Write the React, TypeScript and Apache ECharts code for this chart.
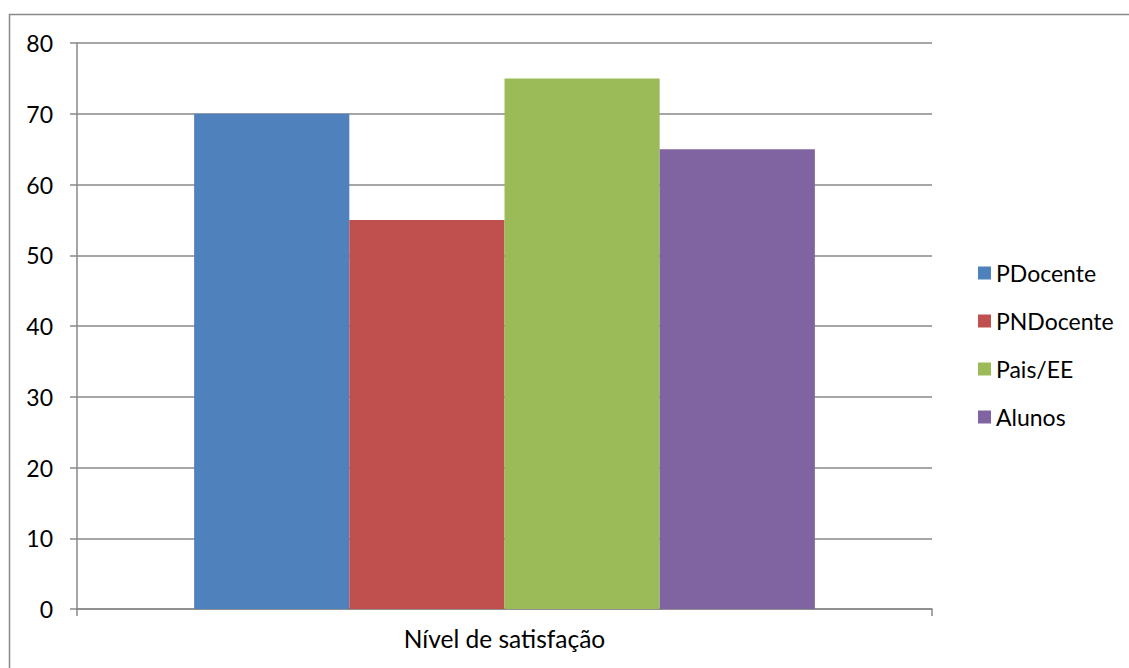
import React, { useEffect, useRef } from "react";
import * as echarts from "echarts";

const categories = ["Nível de satisfação"];
const seriesNames = ["PDocente", "PNDocente", "Pais/EE", "Alunos"];
const seriesValues = [[70], [55], [75], [65]];
const seriesColors = ["#4F81BD", "#C0504D", "#9BBB59", "#8064A2"];

const FONT = "Lato, 'Open Sans', sans-serif";
const FONT_SIZE = 23;

export default function App() {
  const ref = useRef<HTMLDivElement>(null);

  useEffect(() => {
    if (!ref.current) return;
    const chart = echarts.init(ref.current, undefined, { renderer: "svg" });
    chart.setOption({
      animation: false,
      backgroundColor: "#ffffff",
      graphic: [
        {
          type: "rect",
          shape: { x: 9.5, y: 14.5, width: 1300, height: 800 },
          style: { fill: "none", stroke: "#898989", lineWidth: 1.5 },
          silent: true,
        },
      ],
      grid: { left: 77, right: 197, top: 43, bottom: 59 },
      legend: {
        orient: "vertical",
        left: 973,
        top: 256,
        itemWidth: 13,
        itemHeight: 13,
        itemGap: 24,
        icon: "rect",
        textStyle: {
          fontFamily: FONT,
          fontSize: FONT_SIZE,
          lineHeight: 24,
          color: "#000",
          padding: [0, 0, 0, 0],
        },
        data: seriesNames,
      },
      xAxis: {
        type: "category",
        data: categories,
        axisLine: { lineStyle: { color: "#898989", width: 1.5 } },
        axisTick: { show: true, length: 7, lineStyle: { color: "#898989", width: 1.5 } },
        axisLabel: { fontFamily: FONT, fontSize: 24.5, color: "#000", margin: 17 },
      },
      yAxis: {
        type: "value",
        min: 0,
        max: 80,
        interval: 10,
        axisLine: { show: true, lineStyle: { color: "#898989", width: 1.5 } },
        axisTick: { show: true, length: 7, lineStyle: { color: "#898989", width: 1.5 } },
        splitLine: { lineStyle: { color: "#898989", width: 1.5 } },
        axisLabel: { fontFamily: FONT, fontSize: FONT_SIZE, color: "#000", margin: 24 },
      },
      series: seriesNames.map((name, i) => ({
        name,
        type: "bar",
        data: seriesValues[i],
        itemStyle: { color: seriesColors[i] },
        barGap: "0%",
        barCategoryGap: "27.4%",
      })),
    });
    return () => chart.dispose();
  }, []);

  return (
    <div
      ref={ref}
      style={{ position: "fixed", left: 0, top: 0, width: 1129, height: 668 }}
    />
  );
}
